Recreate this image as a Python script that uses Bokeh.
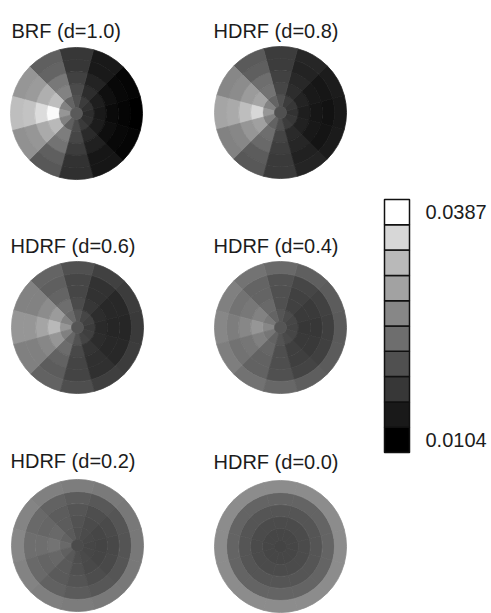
import math
from bokeh.plotting import figure
from bokeh.layouts import row
from bokeh.models import ColumnDataSource, Range1d
from bokeh.core.properties import value
from bokeh.embed import file_html
from bokeh.resources import INLINE

# ---------------------------------------------------------------- data
# view-zenith ring edges (deg) and azimuth sector centres (deg, 0 = right, counter-clockwise)
zenith_edges = [0, 5, 15, 25, 35, 45, 55]
azimuths = [0, 30, 60, 90, 120, 150, 180, 210, 240, 270, 300, 330]
sector_width = 30

panel_titles = ["BRF (d=1.0)", "HDRF (d=0.8)", "HDRF (d=0.6)",
                "HDRF (d=0.4)", "HDRF (d=0.2)", "HDRF (d=0.0)"]

# reflectance at nadir, then one row per zenith ring (5-15, 15-25, 25-35, 35-45, 45-55 deg),
# each row in the azimuth order above
brf_d10_nadir = 0.0204
brf_d10 = [
    [0.0154, 0.0160, 0.0171, 0.0193, 0.0215, 0.0248, 0.0270, 0.0246, 0.0209, 0.0187, 0.0168, 0.0157],
    [0.0132, 0.0137, 0.0154, 0.0187, 0.0248, 0.0315, 0.0382, 0.0309, 0.0243, 0.0182, 0.0151, 0.0135],
    [0.0115, 0.0121, 0.0143, 0.0176, 0.0237, 0.0298, 0.0348, 0.0293, 0.0232, 0.0171, 0.0140, 0.0120],
    [0.0110, 0.0113, 0.0132, 0.0165, 0.0215, 0.0276, 0.0320, 0.0270, 0.0209, 0.0160, 0.0128, 0.0113],
    [0.0104, 0.0110, 0.0132, 0.0165, 0.0209, 0.0270, 0.0315, 0.0265, 0.0202, 0.0157, 0.0128, 0.0110],
]

hdrf_d08_nadir = 0.0193
hdrf_d08 = [
    [0.0160, 0.0165, 0.0171, 0.0193, 0.0215, 0.0248, 0.0270, 0.0246, 0.0213, 0.0191, 0.0171, 0.0165],
    [0.0137, 0.0143, 0.0154, 0.0182, 0.0232, 0.0287, 0.0343, 0.0282, 0.0226, 0.0179, 0.0151, 0.0141],
    [0.0128, 0.0132, 0.0148, 0.0176, 0.0226, 0.0276, 0.0315, 0.0270, 0.0221, 0.0173, 0.0146, 0.0131],
    [0.0124, 0.0128, 0.0143, 0.0171, 0.0209, 0.0259, 0.0293, 0.0254, 0.0206, 0.0168, 0.0141, 0.0126],
    [0.0132, 0.0135, 0.0146, 0.0171, 0.0204, 0.0254, 0.0287, 0.0248, 0.0202, 0.0168, 0.0144, 0.0134],
]

hdrf_d06_nadir = 0.0198
hdrf_d06 = [
    [0.0171, 0.0176, 0.0182, 0.0198, 0.0221, 0.0248, 0.0270, 0.0246, 0.0217, 0.0195, 0.0179, 0.0174],
    [0.0151, 0.0154, 0.0165, 0.0187, 0.0226, 0.0276, 0.0309, 0.0270, 0.0224, 0.0184, 0.0162, 0.0153],
    [0.0146, 0.0148, 0.0160, 0.0182, 0.0215, 0.0259, 0.0287, 0.0254, 0.0213, 0.0179, 0.0157, 0.0148],
    [0.0146, 0.0148, 0.0160, 0.0182, 0.0209, 0.0248, 0.0270, 0.0246, 0.0206, 0.0179, 0.0157, 0.0148],
    [0.0168, 0.0171, 0.0176, 0.0193, 0.0215, 0.0248, 0.0270, 0.0246, 0.0213, 0.0191, 0.0174, 0.0171],
]

hdrf_d04_nadir = 0.0198
hdrf_d04 = [
    [0.0179, 0.0182, 0.0187, 0.0198, 0.0215, 0.0237, 0.0254, 0.0235, 0.0213, 0.0196, 0.0186, 0.0182],
    [0.0165, 0.0168, 0.0176, 0.0193, 0.0221, 0.0248, 0.0270, 0.0246, 0.0217, 0.0191, 0.0174, 0.0167],
    [0.0165, 0.0168, 0.0176, 0.0193, 0.0215, 0.0237, 0.0254, 0.0235, 0.0213, 0.0191, 0.0174, 0.0167],
    [0.0174, 0.0176, 0.0182, 0.0195, 0.0215, 0.0232, 0.0243, 0.0230, 0.0213, 0.0193, 0.0179, 0.0175],
    [0.0204, 0.0206, 0.0209, 0.0221, 0.0232, 0.0246, 0.0254, 0.0244, 0.0230, 0.0218, 0.0208, 0.0205],
]

hdrf_d02_nadir = 0.0187
hdrf_d02 = [
    [0.0182, 0.0184, 0.0187, 0.0193, 0.0204, 0.0213, 0.0221, 0.0211, 0.0202, 0.0191, 0.0186, 0.0183],
    [0.0179, 0.0182, 0.0187, 0.0195, 0.0206, 0.0221, 0.0232, 0.0218, 0.0204, 0.0193, 0.0185, 0.0181],
    [0.0184, 0.0186, 0.0191, 0.0198, 0.0206, 0.0217, 0.0226, 0.0215, 0.0204, 0.0197, 0.0190, 0.0185],
    [0.0197, 0.0198, 0.0202, 0.0206, 0.0213, 0.0221, 0.0226, 0.0220, 0.0212, 0.0205, 0.0201, 0.0198],
    [0.0237, 0.0237, 0.0239, 0.0243, 0.0246, 0.0250, 0.0254, 0.0249, 0.0245, 0.0242, 0.0238, 0.0237],
]

hdrf_d00_nadir = 0.0179
hdrf_d00 = [
    [0.0182] * 12,
    [0.0187] * 12,
    [0.0198] * 12,
    [0.0215] * 12,
    [0.0259] * 12,
]

panel_nadir = [brf_d10_nadir, hdrf_d08_nadir, hdrf_d06_nadir,
               hdrf_d04_nadir, hdrf_d02_nadir, hdrf_d00_nadir]
panel_rings = [brf_d10, hdrf_d08, hdrf_d06, hdrf_d04, hdrf_d02, hdrf_d00]

colorbar_min = 0.0104
colorbar_max = 0.0387
colorbar_labels = ["0.0104", "0.0387"]
# grey level of each colour-bar step, bottom to top
colorbar_greys = [0, 25, 55, 80, 110, 135, 162, 185, 215, 255]

# ---------------------------------------------------------------- layout
PX_PER_DEG = 1.2
MAIN_W, CBAR_W, H = 370, 121, 613
FONT = value("Liberation Sans")
TEXT_COLOR = "#1c1c1c"

# panel centres and title anchors, in page pixels (x from left, y from top)
panel_centres = [(76, 113), (280, 112), (77, 327), (280, 327), (77, 545), (280, 546)]
title_anchors = [(11, 30), (213, 30), (10, 245), (213, 245), (10, 460), (213, 461)]


def to_deg(px, py):
    return px / PX_PER_DEG, (H - py) / PX_PER_DEG


def grey(v):
    g = 255.0 * (v - colorbar_min) / (colorbar_max - colorbar_min)
    g = int(round(min(255, max(0, g))))
    return "#%02x%02x%02x" % (g, g, g)


wedges = dict(x=[], y=[], r0=[], r1=[], a0=[], a1=[], color=[])
nadir = dict(x=[], y=[], r=[], color=[])
for (px, py), nv, rings in zip(panel_centres, panel_nadir, panel_rings):
    cx, cy = to_deg(px, py)
    nadir["x"].append(cx)
    nadir["y"].append(cy)
    nadir["r"].append(zenith_edges[1])
    nadir["color"].append(grey(nv))
    for i, ring in enumerate(rings):
        for az, v in zip(azimuths, ring):
            wedges["x"].append(cx)
            wedges["y"].append(cy)
            wedges["r0"].append(zenith_edges[i + 1])
            wedges["r1"].append(zenith_edges[i + 2])
            wedges["a0"].append(math.radians(az - sector_width / 2))
            wedges["a1"].append(math.radians(az + sector_width / 2))
            wedges["color"].append(grey(v))

main = figure(width=MAIN_W, height=H, output_backend="svg", toolbar_location=None,
              x_range=Range1d(0, MAIN_W / PX_PER_DEG), y_range=Range1d(0, H / PX_PER_DEG),
              x_axis_type=None, y_axis_type=None, min_border=0,
              outline_line_color=None, background_fill_color="white")
main.grid.visible = False

main.annular_wedge(x="x", y="y", inner_radius="r0", outer_radius="r1",
                   start_angle="a0", end_angle="a1",
                   fill_color="color", line_color="color", line_width=0.8,
                   source=ColumnDataSource(wedges))
main.circle(x="x", y="y", radius="r", fill_color="color", line_color="color",
            line_width=0.8, source=ColumnDataSource(nadir))

tx, ty = zip(*[to_deg(px, py) for px, py in title_anchors])
main.text(x=list(tx), y=list(ty), text=panel_titles, text_font=FONT,
          text_font_size="20px", text_color=TEXT_COLOR,
          text_baseline="alphabetic", text_align="left")

# ---------------------------------------------------------------- colour bar
n_steps = len(colorbar_greys)
step = (colorbar_max - colorbar_min) / (n_steps - 1)
bar_top_px, bar_bottom_px = 199, 452
bar_left_px, bar_right_px = 14, 39
px_per_unit = (bar_bottom_px - bar_top_px) / (n_steps * step)
y_lo = colorbar_min - step / 2 - (H - bar_bottom_px) / px_per_unit
y_hi = colorbar_max + step / 2 + bar_top_px / px_per_unit

cbar = figure(width=CBAR_W, height=H, output_backend="svg", toolbar_location=None,
              x_range=Range1d(0, CBAR_W), y_range=Range1d(y_lo, y_hi),
              x_axis_type=None, y_axis_type=None, min_border=0,
              outline_line_color=None, background_fill_color="white")
cbar.grid.visible = False

levels = [colorbar_min + k * step for k in range(n_steps)]
cbar.quad(left=bar_left_px, right=bar_right_px,
          bottom=[lv - step / 2 for lv in levels], top=[lv + step / 2 for lv in levels],
          fill_color=["#%02x%02x%02x" % (g, g, g) for g in colorbar_greys],
          line_color="#111111", line_width=1.5)
cbar.text(x=[55, 55], y=[colorbar_min, colorbar_max], text=colorbar_labels,
          text_font=FONT, text_font_size="20px", text_color=TEXT_COLOR,
          text_baseline="middle", text_align="left")

page = row(main, cbar, spacing=0)
open("out.html", "w").write(file_html(page, INLINE))
